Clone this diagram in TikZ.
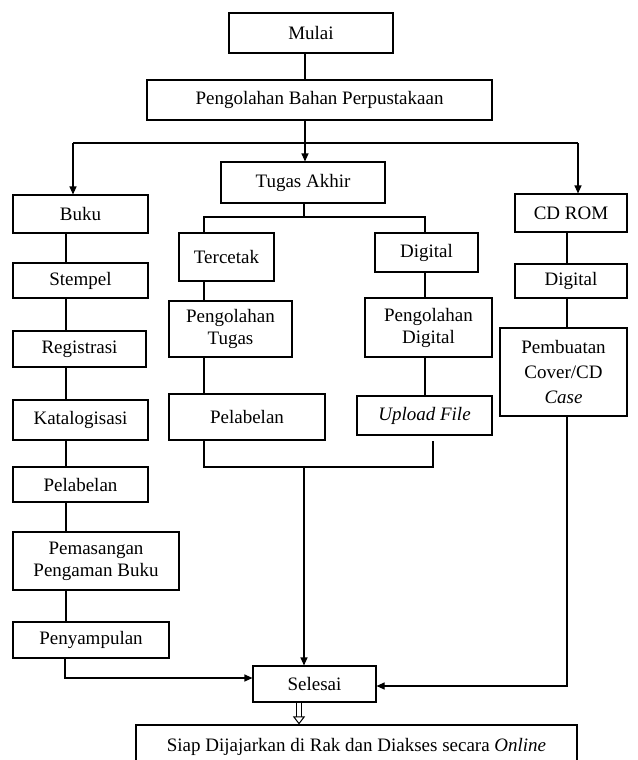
\documentclass[tikz,border=0pt]{standalone}
\usepackage{fontspec}
\setmainfont{Liberation Serif}
\usetikzlibrary{arrows.meta}

\begin{document}
\begin{tikzpicture}[x=1pt,y=-1pt,line width=1.1pt,
  kotak/.style={draw,rectangle,inner sep=0pt,align=center,font=\fontsize{19}{22}\selectfont},
  panah/.style={-{Triangle[length=8pt,width=7pt]}}]

  \useasboundingbox (0,0) rectangle (637,760);
  \clip (0,0) rectangle (637,760);

  \coordinate (mid) at (305,0);
  \coordinate (kolbuku) at (66,0);
  \coordinate (kolcetak) at (204,0);
  \coordinate (koldig) at (425,0);
  \coordinate (kolup) at (433,0);
  \coordinate (kolcd) at (567,0);
  \coordinate (kolsiap) at (299,0);

  \node[kotak,minimum width=164pt,minimum height=40pt] (mulai) at (311,33){Mulai};
  \node[kotak,minimum width=345pt,minimum height=40pt] (olah) at (319.5,100){Pengolahan Bahan Perpustakaan};
  \node[kotak,minimum width=164pt,minimum height=41pt] (tugas) at (303,182.5){Tugas Akhir};
  \node[kotak,minimum width=135pt,minimum height=38pt] (buku) at (80.5,214){Buku};
  \node[kotak,minimum width=112pt,minimum height=38pt] (cdrom) at (571,213){CD ROM};
  \node[kotak,minimum width=95pt,minimum height=48pt] (cetak) at (226.5,257){Tercetak};
  \node[kotak,minimum width=103pt,minimum height=39pt] (digta) at (426.5,252.5){Digital};
  \node[kotak,minimum width=135pt,minimum height=35pt] (stempel) at (80.5,280.5){Stempel};
  \node[kotak,minimum width=112pt,minimum height=34pt] (digcd) at (571,281){Digital};
  \node[kotak,minimum width=123pt,minimum height=56pt] (olahtugas) at (230.5,329){Pengolahan\\Tugas};
  \node[kotak,minimum width=127pt,minimum height=59pt] (olahdig) at (428.5,327.5){Pengolahan\\Digital};
  \node[kotak,minimum width=127pt,minimum height=88pt] (cover) at (563.5,372){Pembuatan\\[3pt]Cover/CD\\[3pt]\textit{Case}};
  \node[kotak,minimum width=133pt,minimum height=36pt] (registrasi) at (79.5,349){Registrasi};
  \node[kotak,minimum width=135pt,minimum height=40pt] (katalog) at (80.5,420){Katalogisasi};
  \node[kotak,minimum width=156pt,minimum height=46pt] (labelta) at (247,417){Pelabelan};
  \node[kotak,minimum width=135pt,minimum height=39pt] (upload) at (424.5,415.5){\textit{Upload File}};
  \node[kotak,minimum width=135pt,minimum height=35pt] (labelbuku) at (80.5,484.5){Pelabelan};
  \node[kotak,minimum width=166pt,minimum height=58pt] (pasang) at (96,561){Pemasangan\\Pengaman Buku};
  \node[kotak,minimum width=156pt,minimum height=36pt] (sampul) at (91,640){Penyampulan};
  \node[kotak,minimum width=123pt,minimum height=36pt] (selesai) at (314.5,684){Selesai};
  \node[kotak,minimum width=441pt,minimum height=50pt,text depth=0pt] (siap) at (356.5,750){\raisebox{10pt}{Siap Dijajarkan di Rak dan Diakses secara \textit{Online}}};

  \coordinate (cabang) at (305,143);
  \coordinate (kiri) at (73,143);
  \coordinate (kanan) at (578,143);
  \coordinate (cabtugas) at (304,217);
  \coordinate (gabung) at (304,467);
  \coordinate (belokkiri) at (65,678);
  \coordinate (belokkanan) at (567,686);

  \path
    (mulai.south -| mid) edge (olah.north -| mid)
    (olah.south -| mid) edge (cabang)
    (kiri) edge (kanan)
    (buku.south -| kolbuku) edge (stempel.north -| kolbuku)
    (stempel.south -| kolbuku) edge (registrasi.north -| kolbuku)
    (registrasi.south -| kolbuku) edge (katalog.north -| kolbuku)
    (katalog.south -| kolbuku) edge (labelbuku.north -| kolbuku)
    (labelbuku.south -| kolbuku) edge (pasang.north -| kolbuku)
    (pasang.south -| kolbuku) edge (sampul.north -| kolbuku)
    (tugas.south -| cabtugas) edge (cabtugas)
    (cetak.south -| kolcetak) edge (olahtugas.north -| kolcetak)
    (olahtugas.south -| kolcetak) edge (labelta.north -| kolcetak)
    (digta.south -| koldig) edge (olahdig.north -| koldig)
    (olahdig.south -| koldig) edge (upload.north -| koldig)
    (cdrom.south -| kolcd) edge (digcd.north -| kolcd)
    (digcd.south -| kolcd) edge (cover.north -| kolcd);

  \path[panah]
    (cabang) edge (tugas.north -| cabang)
    (kiri) edge (buku.north -| kiri)
    (kanan) edge (cdrom.north -| kanan)
    (gabung) edge (selesai.north -| gabung);

  \draw (cetak.north -| kolcetak) |- (cabtugas) -| (digta.north -| koldig);
  \draw (labelta.south -| kolcetak) |- (gabung) -| ([yshift=-5pt]upload.south -| kolup);
  \draw[panah] (sampul.south -| belokkiri) |- (selesai.west |- belokkiri);
  \draw[panah] (cover.south -| belokkanan) |- (selesai.east |- belokkanan);
  \draw[double,double distance=4pt,line width=1pt,-{Triangle[open,length=8pt,width=12pt]}] (selesai.south -| kolsiap) -- (siap.north -| kolsiap);
\end{tikzpicture}
\end{document}
